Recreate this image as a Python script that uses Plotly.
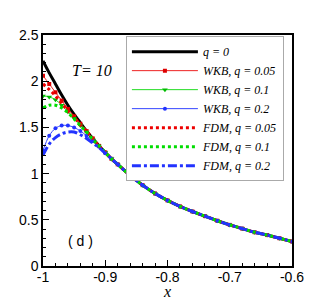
import plotly.graph_objects as go

# x positions (left region where curves differ, then shared tail)
x_head = [-1.0, -0.99, -0.98, -0.97, -0.96, -0.95, -0.94, -0.93, -0.92, -0.91, -0.90, -0.89, -0.88]
x_tail = [-0.86, -0.84, -0.82, -0.80, -0.78, -0.76, -0.74, -0.72, -0.70, -0.68, -0.66, -0.64, -0.62, -0.60]
y_tail = [0.98, 0.875, 0.785, 0.71, 0.645, 0.59, 0.54, 0.49, 0.445, 0.405, 0.365, 0.335, 0.30, 0.265]

y_q0      = [2.22, 2.09, 1.97, 1.85, 1.74, 1.64, 1.55, 1.46, 1.38, 1.30, 1.23, 1.16, 1.10]
y_wkb_005 = [2.06, 1.97, 1.88, 1.79, 1.70, 1.62, 1.54, 1.46, 1.38, 1.30, 1.23, 1.16, 1.10]
y_wkb_01  = [1.84, 1.83, 1.80, 1.74, 1.67, 1.60, 1.52, 1.45, 1.37, 1.30, 1.23, 1.16, 1.10]
y_wkb_02  = [1.25, 1.41, 1.49, 1.52, 1.52, 1.50, 1.46, 1.41, 1.35, 1.29, 1.22, 1.16, 1.10]
y_fdm_005 = [1.97, 1.91, 1.84, 1.76, 1.68, 1.61, 1.53, 1.46, 1.38, 1.30, 1.23, 1.16, 1.10]
y_fdm_01  = [1.71, 1.74, 1.74, 1.71, 1.66, 1.59, 1.52, 1.45, 1.37, 1.30, 1.23, 1.16, 1.10]
y_fdm_02  = [1.20, 1.32, 1.39, 1.43, 1.45, 1.45, 1.42, 1.38, 1.33, 1.28, 1.22, 1.16, 1.10]

x_ticks = [-1.0, -0.9, -0.8, -0.7, -0.6]
x_ticklabels = ["-1", "-0.9", "-0.8", "-0.7", "-0.6"]
y_ticks = [0, 0.5, 1.0, 1.5, 2.0, 2.5]
y_ticklabels = ["0", "0.5", "1", "1.5", "2", "2.5"]

xs = x_head + x_tail

series = [
    ("q = 0",          y_q0,      dict(color="black", width=3), None, "lines"),
    ("WKB, q = 0.05",  y_wkb_005, dict(color="#ee2222", width=1), dict(symbol="square", size=4, color="#dd0000"), "lines+markers"),
    ("WKB, q = 0.1",   y_wkb_01,  dict(color="#22dd22", width=1), dict(symbol="triangle-down", size=5, color="#00bb00"), "lines+markers"),
    ("WKB, q = 0.2",   y_wkb_02,  dict(color="#3344ff", width=1), dict(symbol="circle", size=4, color="#2233ff"), "lines+markers"),
    ("FDM, q = 0.05",  y_fdm_005, dict(color="#ee0000", width=3, dash="dot"), None, "lines"),
    ("FDM, q = 0.1",   y_fdm_01,  dict(color="#00dd00", width=3, dash="dot"), None, "lines"),
    ("FDM, q = 0.2",   y_fdm_02,  dict(color="#2233ff", width=3, dash="dashdot"), None, "lines"),
]

fig = go.Figure()
for name, yh, line, marker, mode in series:
    kw = dict(x=xs, y=yh + y_tail, name=name, mode=mode, line=line, line_shape="spline")
    if marker:
        kw["marker"] = marker
    fig.add_trace(go.Scatter(**kw))

axis_common = dict(
    showgrid=False, zeroline=False, showline=True, linecolor="black", linewidth=1.5,
    mirror=True, ticks="inside", ticklen=6, tickwidth=1, tickcolor="black", automargin=False,
    tickfont=dict(family="Liberation Sans, Arial", size=14, color="black"),
)

# page body adds an 8px offset, so the figure is 8px smaller and shifted margins
fig.update_layout(
    width=324, height=292,
    margin=dict(l=35, r=40, t=27, b=34, autoexpand=False),
    paper_bgcolor="white", plot_bgcolor="white",
    showlegend=True,
    legend=dict(
        x=0.333, y=0.995, xanchor="left", yanchor="top",
        bgcolor="white", bordercolor="#aaaaaa", borderwidth=1,
        font=dict(family="Liberation Serif, Times New Roman", size=12, color="black", style="italic"),
        itemwidth=66, tracegroupgap=0,
    ),
    xaxis=dict(
        range=[-1.0, -0.6], tickvals=x_ticks, ticktext=x_ticklabels,
        minor=dict(dtick=0.02, ticks="inside", ticklen=3, tickcolor="black"),
        ticklabelstandoff=-3,
        title=dict(text="x", font=dict(family="Liberation Serif, Times New Roman", size=16, style="italic", color="black"), standoff=5),
        **axis_common,
    ),
    yaxis=dict(
        range=[0, 2.5], tickvals=y_ticks, ticktext=y_ticklabels,
        minor=dict(dtick=0.1, ticks="inside", ticklen=3, tickcolor="black"),
        **axis_common,
    ),
    annotations=[
        dict(text="T= 10", xref="paper", yref="paper", x=0.196, y=0.845, xanchor="center", yanchor="middle",
             showarrow=False,
             font=dict(family="Liberation Serif, Times New Roman", size=16, style="italic", color="black")),
        dict(text="( d )", xref="paper", yref="paper", x=0.149, y=0.11, xanchor="center", yanchor="middle",
             showarrow=False,
             font=dict(family="Liberation Sans, Arial", size=14, color="black")),
    ],
)

fig.write_html("out.html")
